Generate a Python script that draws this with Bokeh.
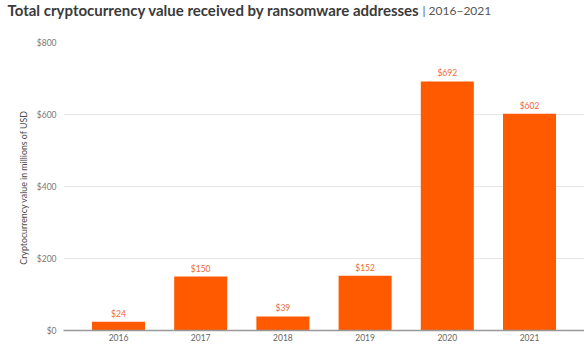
from bokeh.plotting import figure
from bokeh.models import FactorRange, Range1d, Title, FixedTicker, NumeralTickFormatter, ColumnDataSource, LabelSet
from bokeh.core.properties import value
from bokeh.embed import file_html
from bokeh.resources import INLINE

years = ["2016", "2017", "2018", "2019", "2020", "2021"]
values = [24, 150, 39, 152, 692, 602]
labels = ["$24", "$150", "$39", "$152", "$692", "$602"]
y_ticks = [0, 200, 400, 600, 800]
title_main = "Total cryptocurrency value received by ransomware addresses"
title_years = "| 2016–2021"

FONT = "Lato"
ORANGE = "#FF5A00"

src = ColumnDataSource(dict(year=years, value=values, label=labels))

p = figure(width=584, height=346, output_backend="svg", toolbar_location=None,
           x_range=FactorRange(factors=years, range_padding=0.0563),
           y_range=Range1d(0, 800),
           min_border_left=63, min_border_right=0, min_border_top=0, min_border_bottom=16)
p.outline_line_color = None
p.background_fill_color = "white"
p.border_fill_color = "white"

# title rows, listed from the plot frame outward
p.add_layout(Title(text=" ", text_font=FONT, text_font_size="10px", standoff=19), "above")
p.add_layout(Title(text=title_years, text_font=FONT, text_font_size="12px",
                   text_font_style="normal", text_color="#555555",
                   offset=359, standoff=-16.4), "above")
p.add_layout(Title(text=title_main, text_font=FONT, text_font_size="15px",
                   text_font_style="bold", text_color="#3A3A3A",
                   offset=-56, standoff=-20), "above")
p.add_layout(Title(text=" ", text_font=FONT, text_font_size="10px", standoff=-6), "above")

p.vbar(x="year", top="value", width=0.645, source=src, color=ORANGE, line_color=None)

p.add_layout(LabelSet(x="year", y="value", text="label", source=src, text_align="center",
                      text_baseline="bottom", y_offset=3, text_color="#F26A2E",
                      text_font=value(FONT), text_font_size="8.5px"))

p.xgrid.grid_line_color = None
p.ygrid.grid_line_color = "#E6E6E6"
p.ygrid.grid_line_width = 1

p.yaxis.ticker = FixedTicker(ticks=y_ticks)
p.yaxis.formatter = NumeralTickFormatter(format="$0")
p.yaxis.axis_line_color = None
p.yaxis.major_tick_line_color = None
p.yaxis.minor_tick_line_color = None
p.yaxis.major_tick_out = 0
p.yaxis.minor_tick_out = 0
p.yaxis.major_label_text_font = FONT
p.yaxis.major_label_text_font_size = "8.5px"
p.yaxis.major_label_text_color = "#777777"
p.yaxis.major_label_standoff = 7
p.yaxis.axis_label = "Cryptocurrency value in millions of  USD"
p.yaxis.axis_label_text_font = FONT
p.yaxis.axis_label_text_font_style = "normal"
p.yaxis.axis_label_text_font_size = "8.8px"
p.yaxis.axis_label_text_color = "#4A4A4A"
p.yaxis.axis_label_standoff = 5

p.xaxis.axis_line_color = "#999999"
p.xaxis.axis_line_width = 1.5
p.xaxis.major_tick_line_color = None
p.xaxis.minor_tick_line_color = None
p.xaxis.major_tick_out = 0
p.xaxis.minor_tick_out = 0
p.xaxis.major_label_text_font = FONT
p.xaxis.major_label_text_font_size = "8.5px"
p.xaxis.major_label_text_color = "#666666"
p.xaxis.major_label_standoff = 3

open("out.html", "w").write(file_html(p, INLINE))
